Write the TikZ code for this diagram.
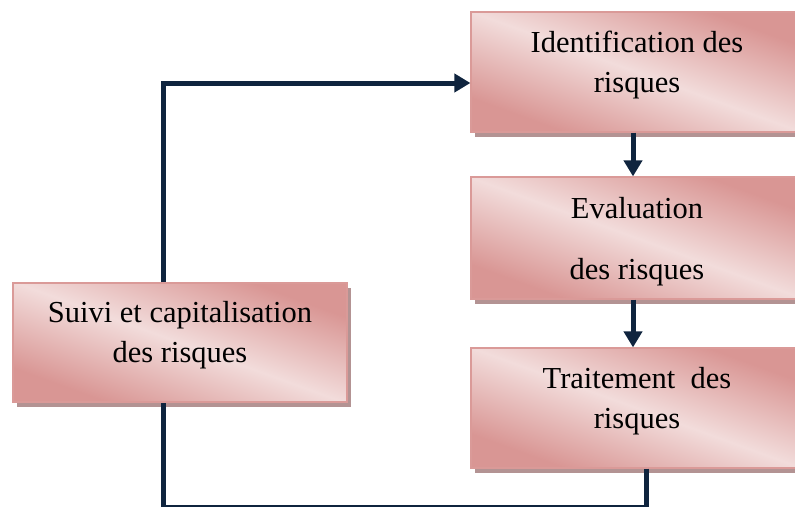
\documentclass[tikz,border=0pt]{standalone}
\usepackage{fontspec}
\setmainfont{Liberation Serif}
\usetikzlibrary{arrows.meta,shadows}
\definecolor{dk}{HTML}{D99694}
\definecolor{lt}{HTML}{F2DCDB}
\definecolor{bordc}{HTML}{DA9A98}
\definecolor{shadc}{HTML}{B39393}
\definecolor{linec}{HTML}{0F243E}
\pgfdeclarehorizontalshading{boxshade}{100bp}{color(0bp)=(dk); color(27bp)=(dk); color(50bp)=(lt); color(73bp)=(dk); color(100bp)=(dk)}
\newcommand{\dn}{\rule[-21pt]{0pt}{0pt}}
\begin{document}
\begin{tikzpicture}[x=1pt,y=-1pt,
  box/.style={rectangle, draw=bordc, line width=1.2pt, shading=boxshade, shading angle=70,
    general shadow={fill=shadc, shadow xshift=4pt, shadow yshift=-5pt},
    align=center, font=\fontsize{30.5}{40}\selectfont, inner sep=0pt, text=black},
  conn/.style={draw=linec, line width=5pt},
  arr/.style={conn, -{Triangle[width=18pt,length=16pt]}}]
\clip (0,0) rectangle (795,506);
\node[box, minimum width=332pt, minimum height=120pt] (ident) at (637,72) {Identification des\\risques\dn};
\node[box, minimum width=332pt, minimum height=122pt] (eval) at (637,238) {\rule{0pt}{28pt}Evaluation\\[21pt]des risques};
\node[box, minimum width=332pt, minimum height=120pt] (trait) at (637,408) {Traitement~~des\\risques\dn};
\node[box, minimum width=334pt, minimum height=119pt] (suivi) at (180,342.5) {Suivi et capitalisation\\des risques\dn};
\draw[arr] ([xshift=-17pt]suivi.north) |- ([yshift=-11pt]ident.west);
\draw[arr] ([xshift=-4pt]ident.south) -- ([xshift=-4pt]eval.north);
\draw[arr] ([xshift=-4pt]eval.south) -- ([xshift=-4pt]trait.north);
\coordinate (b1) at (646,507.5);
\coordinate (b2) at (163,507.5);
\draw[conn] ([xshift=9pt]trait.south) -- (b1) -- (b2) -- ([xshift=-17pt]suivi.south);
\end{tikzpicture}
\end{document}
